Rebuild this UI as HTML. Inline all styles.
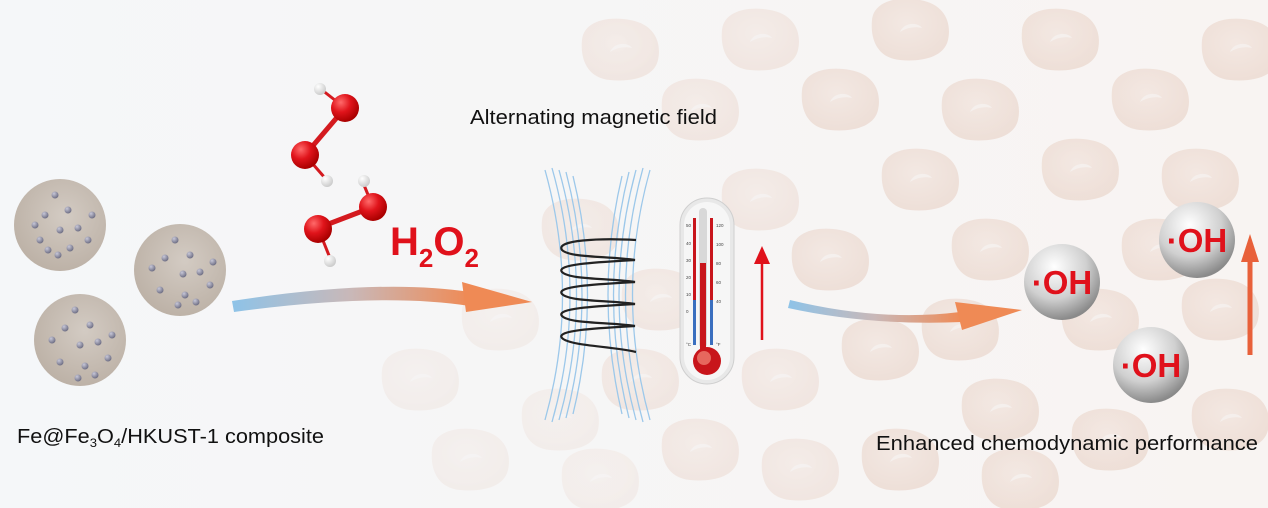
<!DOCTYPE html>
<html><head><meta charset="utf-8"><style>
html,body{margin:0;padding:0;background:#f6f7f8;}
svg{display:block;font-family:"Liberation Sans",Arial,sans-serif;}
</style></head><body>
<svg width="1268" height="508" viewBox="0 0 1268 508" xmlns="http://www.w3.org/2000/svg">
<defs>
<linearGradient id="bg" x1="0" x2="1"><stop offset="0" stop-color="#f5f7f9"/><stop offset="1" stop-color="#f8f4f2"/></linearGradient>
<radialGradient id="cell" cx="0.45" cy="0.4" r="0.6"><stop offset="0" stop-color="#f0ddd3"/><stop offset="1" stop-color="#e6cbbd"/></radialGradient>
<radialGradient id="part" cx="0.55" cy="0.4" r="0.6"><stop offset="0" stop-color="#d3cbc3"/><stop offset="1" stop-color="#bdb2a7"/></radialGradient>
<radialGradient id="ox" cx="0.35" cy="0.3" r="0.7"><stop offset="0" stop-color="#ff6a6a"/><stop offset="0.5" stop-color="#e0141b"/><stop offset="1" stop-color="#a00"/></radialGradient>
<radialGradient id="hy" cx="0.35" cy="0.3" r="0.7"><stop offset="0" stop-color="#fff"/><stop offset="1" stop-color="#ccc"/></radialGradient>
<radialGradient id="sph" cx="0.4" cy="0.3" r="0.7"><stop offset="0" stop-color="#ffffff"/><stop offset="0.6" stop-color="#d0d0d0"/><stop offset="1" stop-color="#8a8a8a"/></radialGradient>
<radialGradient id="dot" cx="0.35" cy="0.3" r="0.7"><stop offset="0" stop-color="#c8c8d8"/><stop offset="1" stop-color="#6f6f85"/></radialGradient>
<linearGradient id="a1" x1="0" x2="1"><stop offset="0" stop-color="#8ec3e8"/><stop offset="0.5" stop-color="#c9b8b8"/><stop offset="1" stop-color="#ef8a55"/></linearGradient>
<g id="c">
<path d="M-38,-10 C-36,-30 -10,-34 10,-30 C34,-26 42,-8 38,10 C34,28 10,32 -10,30 C-32,28 -40,10 -38,-10Z" fill="url(#cell)"/>
<path d="M-10,2 C-6,-8 8,-8 12,-2 C4,-4 -4,-2 -10,2Z" fill="#f4ece8"/>
</g>
</defs>
<rect width="1268" height="508" fill="url(#bg)"/>
<g opacity="0.2"><use href="#c" x="420" y="380"/><use href="#c" x="470" y="460"/><use href="#c" x="500" y="320"/><use href="#c" x="560" y="420"/><use href="#c" x="600" y="480"/></g>
<g opacity="0.35">
<use href="#c" x="620" y="50"/><use href="#c" x="700" y="110"/><use href="#c" x="580" y="230"/><use href="#c" x="660" y="300"/><use href="#c" x="700" y="450"/><use href="#c" x="640" y="380"/><use href="#c" x="760" y="200"/><use href="#c" x="780" y="380"/><use href="#c" x="800" y="470"/><use href="#c" x="760" y="40"/>
</g>
<g opacity="0.5">
<use href="#c" x="840" y="100"/><use href="#c" x="830" y="260"/><use href="#c" x="880" y="350"/><use href="#c" x="900" y="460"/><use href="#c" x="910" y="30"/><use href="#c" x="920" y="180"/><use href="#c" x="980" y="110"/><use href="#c" x="990" y="250"/><use href="#c" x="1000" y="410"/><use href="#c" x="1020" y="480"/><use href="#c" x="1060" y="40"/><use href="#c" x="1080" y="170"/><use href="#c" x="1100" y="320"/><use href="#c" x="1110" y="440"/><use href="#c" x="1150" y="100"/><use href="#c" x="1200" y="180"/><use href="#c" x="1220" y="310"/><use href="#c" x="1230" y="420"/><use href="#c" x="1240" y="50"/><use href="#c" x="960" y="330"/><use href="#c" x="1160" y="250"/>
</g>
<g>
<circle cx="60" cy="225" r="46" fill="url(#part)"/>
<circle cx="180" cy="270" r="46" fill="url(#part)"/>
<circle cx="80" cy="340" r="46" fill="url(#part)"/>
<g fill="url(#dot)">
<circle cx="55" cy="195" r="3.5"/><circle cx="45" cy="215" r="3.5"/><circle cx="68" cy="210" r="3.5"/><circle cx="35" cy="225" r="3.5"/><circle cx="60" cy="230" r="3.5"/><circle cx="78" cy="228" r="3.5"/><circle cx="40" cy="240" r="3.5"/><circle cx="70" cy="248" r="3.5"/><circle cx="88" cy="240" r="3.5"/><circle cx="58" cy="255" r="3.5"/><circle cx="92" cy="215" r="3.5"/><circle cx="48" cy="250" r="3.5"/>
<circle cx="175" cy="240" r="3.5"/><circle cx="165" cy="258" r="3.5"/><circle cx="190" cy="255" r="3.5"/><circle cx="152" cy="268" r="3.5"/><circle cx="183" cy="274" r="3.5"/><circle cx="200" cy="272" r="3.5"/><circle cx="160" cy="290" r="3.5"/><circle cx="185" cy="295" r="3.5"/><circle cx="210" cy="285" r="3.5"/><circle cx="178" cy="305" r="3.5"/><circle cx="213" cy="262" r="3.5"/><circle cx="196" cy="302" r="3.5"/>
<circle cx="75" cy="310" r="3.5"/><circle cx="65" cy="328" r="3.5"/><circle cx="90" cy="325" r="3.5"/><circle cx="52" cy="340" r="3.5"/><circle cx="80" cy="345" r="3.5"/><circle cx="98" cy="342" r="3.5"/><circle cx="60" cy="362" r="3.5"/><circle cx="85" cy="366" r="3.5"/><circle cx="108" cy="358" r="3.5"/><circle cx="78" cy="378" r="3.5"/><circle cx="112" cy="335" r="3.5"/><circle cx="95" cy="375" r="3.5"/>
</g></g>
<g stroke="#d41a1f" stroke-width="5">
<line x1="345" y1="108" x2="305" y2="155"/><line x1="373" y1="207" x2="318" y2="228"/>
<line x1="345" y1="108" x2="322" y2="90" stroke-width="3"/><line x1="305" y1="155" x2="325" y2="178" stroke-width="3"/>
<line x1="373" y1="207" x2="364" y2="185" stroke-width="3"/><line x1="318" y1="228" x2="330" y2="258" stroke-width="3"/>
</g>
<circle cx="320" cy="89" r="6" fill="url(#hy)"/><circle cx="327" cy="181" r="6" fill="url(#hy)"/><circle cx="364" cy="181" r="6" fill="url(#hy)"/><circle cx="330" cy="261" r="6" fill="url(#hy)"/>
<circle cx="345" cy="108" r="14" fill="url(#ox)"/><circle cx="305" cy="155" r="14" fill="url(#ox)"/><circle cx="373" cy="207" r="14" fill="url(#ox)"/><circle cx="318" cy="229" r="14" fill="url(#ox)"/>
<text x="390" y="255" font-size="40" font-weight="bold" fill="#e0111b">H<tspan font-size="26" dy="12">2</tspan><tspan dy="-12">O</tspan><tspan font-size="26" dy="12">2</tspan></text>
<path d="M232,301 Q380,278 470,292 L470,306 Q380,292 234,312 Z" fill="url(#a1)"/>
<path d="M462,282 L532,302 L466,312 Z" fill="#ef8a55"/>
<g fill="none" stroke="#9cc8ea" stroke-width="1.3">
<path d="M545,170 Q580,295 545,420"/><path d="M552,168 Q588,295 552,422"/><path d="M559,170 Q594,295 559,420"/><path d="M566,172 Q598,295 566,418"/><path d="M573,176 Q602,295 573,414"/>
<path d="M650,170 Q615,295 650,420"/><path d="M643,168 Q608,295 643,422"/><path d="M636,170 Q602,295 636,420"/><path d="M629,172 Q598,295 629,418"/><path d="M622,176 Q594,295 622,414"/>
</g>
<g fill="none" stroke="#222" stroke-width="2.2">
<path d="M636,240 C600,238 555,240 562,250 C570,258 610,256 635,260 C600,262 555,264 562,272 C570,280 610,278 635,282 C600,284 555,286 562,294 C570,302 610,300 635,304 C600,306 555,308 562,316 C570,324 610,322 635,326 C600,328 555,330 562,338 C570,346 610,346 636,352"/>
</g>
<rect x="680" y="198" width="54" height="186" rx="27" fill="#e8e8e8" stroke="#cfcfcf"/>
<rect x="684" y="202" width="46" height="178" rx="23" fill="#f6f6f6"/>
<rect x="699" y="208" width="8" height="140" rx="4" fill="#d8d8d8"/>
<rect x="700" y="263" width="6" height="90" fill="#c8151b"/>
<rect x="693" y="218" width="3" height="110" fill="#c8151b"/><rect x="710" y="218" width="3" height="110" fill="#c8151b"/>
<rect x="693" y="300" width="3" height="45" fill="#3a6fbf"/><rect x="710" y="300" width="3" height="45" fill="#3a6fbf"/>
<circle cx="707" cy="361" r="14" fill="#c8151b"/><circle cx="704" cy="358" r="7" fill="#f28a7a" opacity="0.7"/>
<g font-size="4.5" fill="#444"><text x="686" y="227">50</text><text x="686" y="245">40</text><text x="686" y="262">30</text><text x="686" y="279">20</text><text x="686" y="296">10</text><text x="686" y="313">0</text><text x="686" y="346">°C</text><text x="716" y="227">120</text><text x="716" y="246">100</text><text x="716" y="265">80</text><text x="716" y="284">60</text><text x="716" y="303">40</text><text x="716" y="346">°F</text></g>
<line x1="762" y1="340" x2="762" y2="258" stroke="#e0111b" stroke-width="2.5"/>
<path d="M754,264 L762,246 L770,264 Z" fill="#e0111b"/>
<path d="M790,300 Q880,322 960,312 L962,322 Q870,326 788,308 Z" fill="url(#a1)"/>
<path d="M955,302 L1022,310 L962,330 Z" fill="#ef8a55"/>
<circle cx="1062" cy="282" r="38" fill="url(#sph)"/>
<circle cx="1197" cy="240" r="38" fill="url(#sph)"/>
<circle cx="1151" cy="365" r="38" fill="url(#sph)"/>
<g font-size="33" font-weight="bold" fill="#e0111b" text-anchor="middle">
<text x="1062" y="294">·OH</text><text x="1197" y="252">·OH</text><text x="1151" y="377">·OH</text></g>
<line x1="1250" y1="355" x2="1250" y2="252" stroke="#e8603a" stroke-width="5"/>
<path d="M1241,262 L1250,234 L1259,262 Z" fill="#e8603a"/>
<text x="470" y="124" font-size="20" fill="#111" textLength="247" lengthAdjust="spacingAndGlyphs">Alternating magnetic field</text>
<text x="17" y="443" font-size="20" fill="#111" textLength="307" lengthAdjust="spacingAndGlyphs">Fe@Fe<tspan font-size="12" dy="4">3</tspan><tspan dy="-4">O</tspan><tspan font-size="12" dy="4">4</tspan><tspan dy="-4">/HKUST-1 composite</tspan></text>
<text x="876" y="450" font-size="20" fill="#111" textLength="382" lengthAdjust="spacingAndGlyphs">Enhanced chemodynamic performance</text>
</svg>
</body></html>
